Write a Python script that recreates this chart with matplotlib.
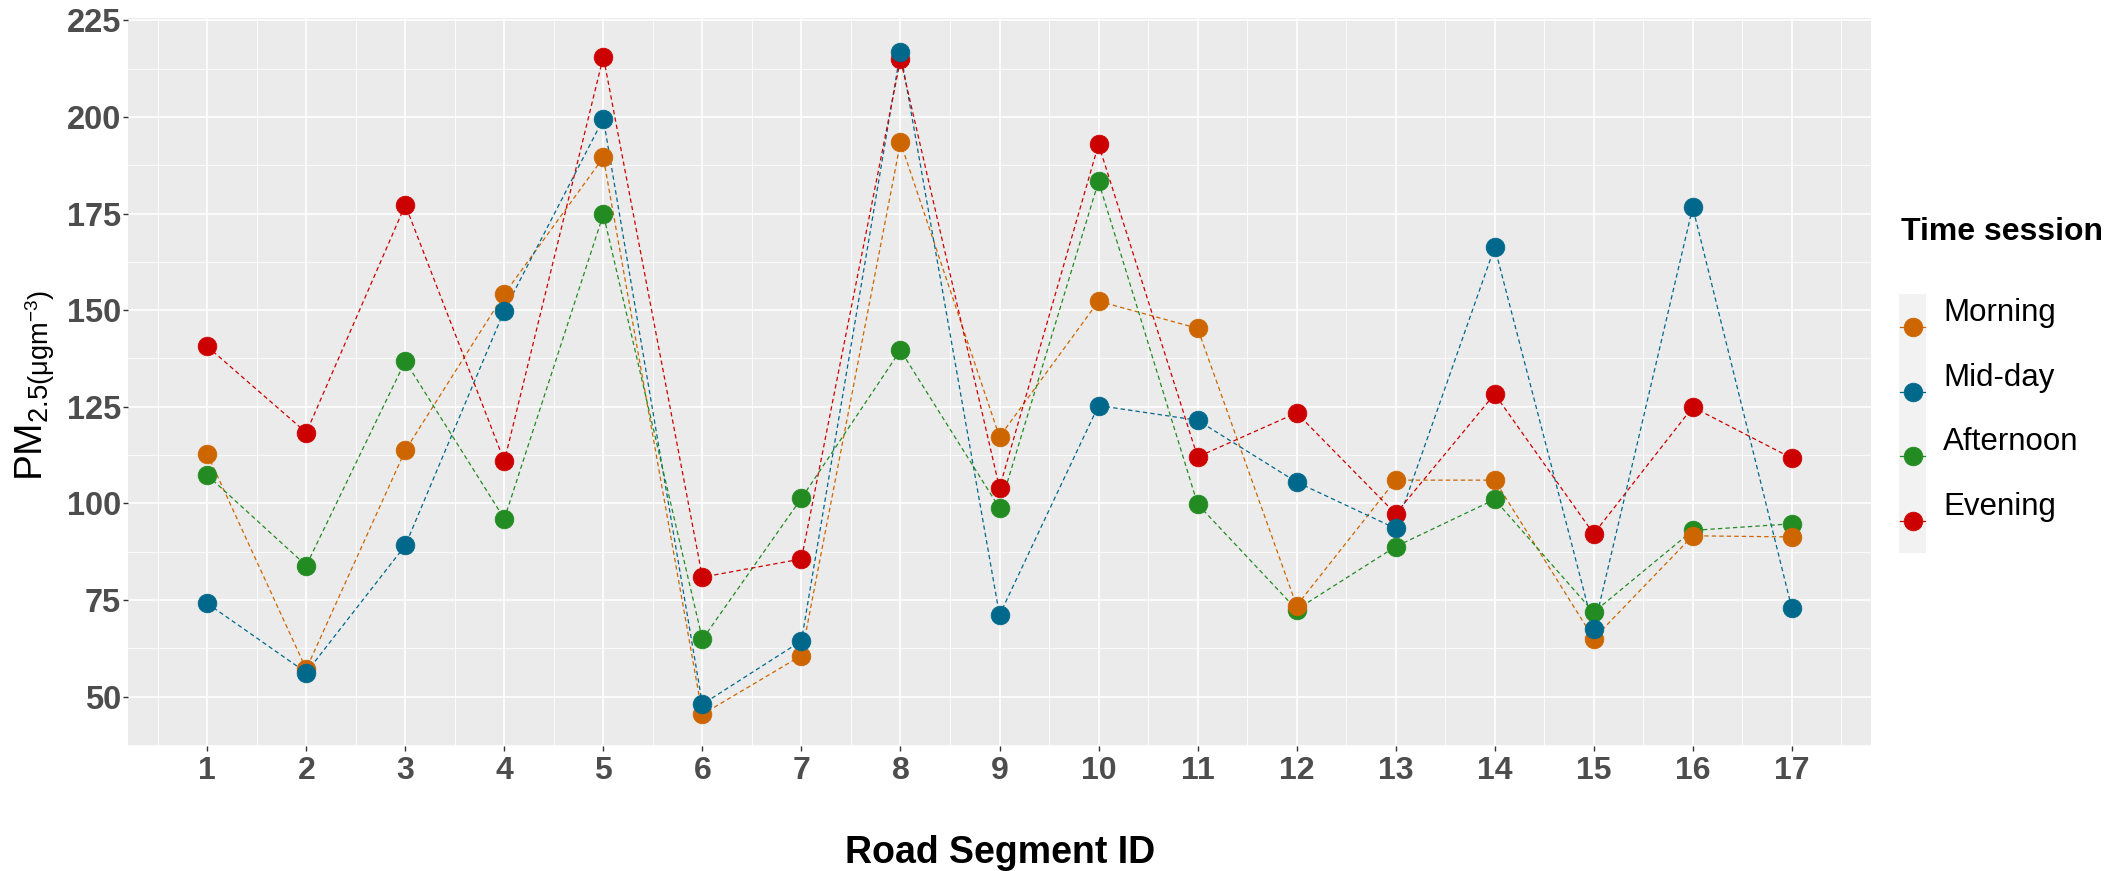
import numpy as np
import matplotlib
matplotlib.use("Agg")
import matplotlib.pyplot as plt
from matplotlib.lines import Line2D
from matplotlib.patches import Rectangle

plt.rcParams['font.family'] = ['Liberation Sans', 'DejaVu Sans']
plt.rcParams['mathtext.fontset'] = 'custom'
plt.rcParams['mathtext.rm'] = 'Liberation Sans'
plt.rcParams['mathtext.it'] = 'Liberation Sans:italic'
plt.rcParams['mathtext.bf'] = 'Liberation Sans:bold'

# PM2.5 per road segment and time session
segments = np.arange(1, 18)
morning = [112.8, 57.1, 113.7, 154.2, 189.5, 45.4, 60.6, 193.4, 117.2,
           152.3, 145.3, 73.5, 106.0, 106.0, 65.0, 91.6, 91.3]
midday = [74.1, 56.2, 89.1, 149.9, 199.5, 48.0, 64.4, 216.9, 71.1,
          125.3, 121.5, 105.5, 93.5, 166.3, 67.5, 176.6, 72.9]
afternoon = [107.3, 83.9, 136.8, 96.0, 174.8, 64.8, 101.3, 139.6, 98.8,
             183.3, 99.8, 72.5, 88.8, 101.0, 71.8, 93.0, 94.7]
evening = [140.6, 118.3, 177.2, 110.9, 215.6, 80.9, 85.6, 214.9, 104.0,
           192.9, 112.0, 123.4, 97.3, 128.3, 92.1, 124.9, 111.7]

sessions = ['Morning', 'Mid-day', 'Afternoon', 'Evening']
values = [morning, midday, afternoon, evening]
colors = ['#CD6600', '#00688B', '#228B22', '#CD0000']
point_z = [5, 6, 3, 4]

W, H = 2124, 871
fig = plt.figure(figsize=(W / 100, H / 100), dpi=100)

def fx(px):
    return px / W

def fy(py):
    return 1 - py / H

ax = fig.add_axes([fx(128), fy(746), fx(1871) - fx(128), fy(18) - fy(746)])
ax.set_facecolor('#EBEBEB')
for s in ax.spines.values():
    s.set_visible(False)

for vals, c in zip(values, colors):
    ax.plot(segments, vals, linestyle=(0, (3.5, 2.5)), lw=0.9, color=c, zorder=2)
for vals, c, z in zip(values, colors, point_z):
    ax.plot(segments, vals, 'o', ms=13.5, mfc=c, mec=c, mew=0.5,
            linestyle='none', zorder=z)

ax.set_xlim(0.2, 17.8)
ax.set_ylim(37.2, 225.6)
ax.set_xticks(segments)
ax.set_yticks(np.arange(50, 226, 25))
ax.set_xticks(np.arange(0.5, 18, 1), minor=True)
ax.set_yticks(np.arange(37.5, 226, 25), minor=True)
ax.grid(which='major', color='white', lw=1.2)
ax.grid(which='minor', color='white', lw=0.6)
ax.set_axisbelow(True)
ax.tick_params(which='major', length=3.5, width=1, color='#333333',
               labelsize=23, labelcolor='#4D4D4D')
ax.tick_params(axis='y', pad=1.5, labelsize=23.5)
ax.tick_params(axis='x', pad=4)
ax.tick_params(which='minor', length=0)
for lab in ax.get_xticklabels() + ax.get_yticklabels():
    lab.set_fontweight('bold')

fig.text(fx(1000), fy(863), 'Road Segment ID', ha='center', va='baseline',
         fontsize=27, fontweight='bold', color='black')
fig.text(fx(35), fy(385), r'PM$_{2.5(\mathrm{μgm}^{-3})}$', rotation=90,
         ha='center', va='center', fontsize=28, color='black')

# legend
fig.text(fx(1901), fy(232), 'Time session', ha='left', va='center',
         fontsize=23, fontweight='bold', color='black')
fig.add_artist(Rectangle((fx(1899), fy(553)), fx(27), fy(294) - fy(553),
                         transform=fig.transFigure, color='#F2F2F2', lw=0))
key_y = [327, 392, 456, 521]
lab_y = [313, 378, 442, 507]
for name, c, ky, ly in zip(sessions, colors, key_y, lab_y):
    fig.add_artist(Line2D([fx(1900), fx(1925)], [fy(ky), fy(ky)], color=c,
                          lw=0.9, transform=fig.transFigure))
    fig.add_artist(Line2D([fx(1912.5)], [fy(ky)], marker='o', ms=13.5, mfc=c,
                          mec=c, mew=0.5, transform=fig.transFigure))
    fig.text(fx(1943), fy(ly), name, ha='left', va='center', fontsize=22.5,
             color='black')

fig.savefig('out.png', dpi=100, facecolor='white')
